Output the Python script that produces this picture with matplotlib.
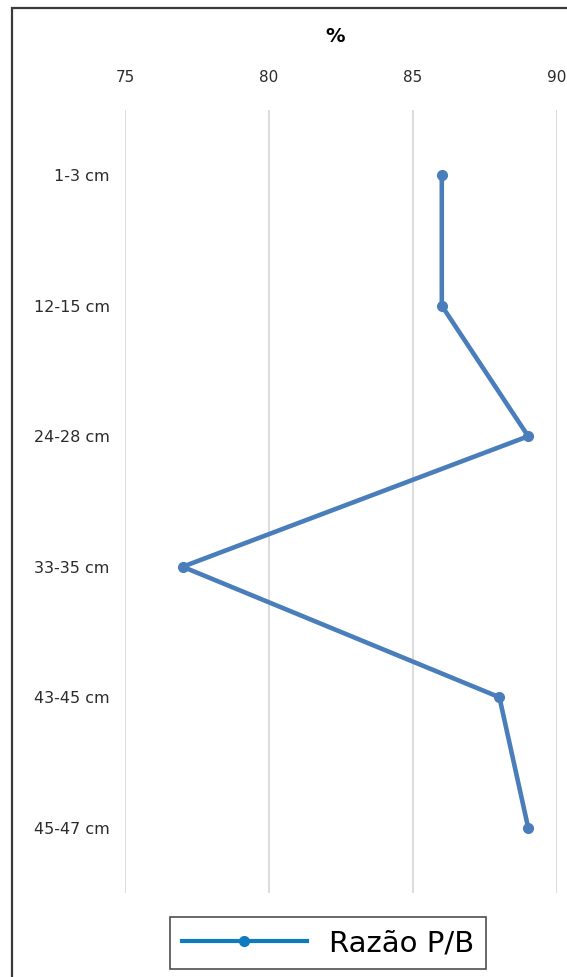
import matplotlib
matplotlib.use("Agg")
import matplotlib.pyplot as plt
from matplotlib.lines import Line2D
from matplotlib.patches import Rectangle

# Depth intervals (top to bottom) and P/B ratio (%)
depths = ["1-3 cm", "12-15 cm", "24-28 cm", "33-35 cm", "43-45 cm", "45-47 cm"]
ratio_pb = [86, 86, 89, 77, 88, 89]
x_ticks = [75, 80, 85, 90]

W, H = 567, 977
fig = plt.figure(figsize=(W / 100, H / 100), dpi=100)
fig.patch.set_facecolor("white")

# chart area border
fig.add_artist(Rectangle((12 / W, -0.05), 1.2, 1 - 8 / H + 0.05,
                         transform=fig.transFigure, fill=False,
                         edgecolor="#3a3a3a", linewidth=1.6))

ax = fig.add_axes([125 / W, 1 - 893 / H, 432 / W, 783 / H])
ypos = list(range(len(depths)))
ax.plot(ratio_pb, ypos, color="#4a7ebb", linewidth=3.3, marker="o",
        markersize=7, solid_joinstyle="round", zorder=3)

ax.set_xlim(75, 90)
ax.set_ylim(len(depths) - 0.5, -0.5)
ax.set_xticks(x_ticks)
ax.set_yticks(ypos)
ax.set_yticklabels(depths)
ax.xaxis.tick_top()
ax.tick_params(axis="x", length=0, pad=18, labelsize=11, labelcolor="#2b2b2b")
ax.tick_params(axis="y", length=0, pad=11, labelsize=11.5, labelcolor="#2b2b2b")
for lbl in ax.get_xticklabels() + ax.get_yticklabels():
    lbl.set_fontfamily("DejaVu Sans")
ax.grid(axis="x", color="#d9d9d9", linewidth=1.3)
ax.set_axisbelow(True)
for s in ax.spines.values():
    s.set_visible(False)

fig.text(335 / W, 1 - 37 / H, "%", ha="center", va="center",
         fontsize=14, fontweight="bold", fontfamily="DejaVu Sans")

handle = Line2D([], [], color="#0f7bbf", linewidth=3.0, marker="o", markersize=7)
leg = fig.legend([handle], ["Razão P/B"], loc="center",
                 bbox_to_anchor=(328 / W, 1 - 943 / H),
                 prop={"family": "DejaVu Sans", "size": 21},
                 frameon=True, fancybox=False, handlelength=4.3,
                 handletextpad=0.75, borderpad=0.4, borderaxespad=0)
leg.get_frame().set_edgecolor("#222222")
leg.get_frame().set_linewidth(1.2)

fig.savefig("out.png", dpi=100, facecolor="white")
